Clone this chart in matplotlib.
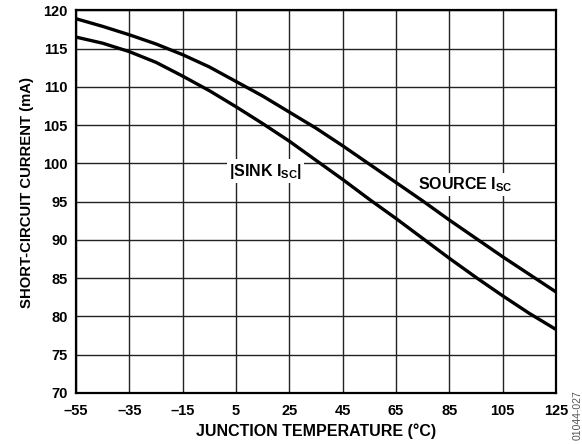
import matplotlib
matplotlib.use("Agg")
import matplotlib.pyplot as plt

temps = [-55, -45, -35, -25, -15, -5, 5, 15, 25, 35, 45, 55, 65, 75, 85, 95, 105, 115, 125]
source_isc = [118.9, 117.9, 116.8, 115.6, 114.2, 112.6, 110.7, 108.8, 106.7, 104.6,
              102.3, 99.9, 97.5, 95.1, 92.6, 90.2, 87.8, 85.5, 83.2]
sink_isc = [116.5, 115.7, 114.6, 113.2, 111.4, 109.5, 107.4, 105.2, 102.9, 100.4,
            97.9, 95.3, 92.8, 90.2, 87.6, 85.1, 82.7, 80.4, 78.3]
x_ticks = [-55, -35, -15, 5, 25, 45, 65, 85, 105, 125]
x_tick_labels = ["–55", "–35", "–15", "5", "25", "45", "65", "85", "105", "125"]
y_ticks = [70, 75, 80, 85, 90, 95, 100, 105, 110, 115, 120]

plt.rcParams['font.family'] = ['Liberation Sans', 'DejaVu Sans']
plt.rcParams['font.weight'] = 'bold'
plt.rcParams['mathtext.fontset'] = 'custom'
plt.rcParams['mathtext.rm'] = 'Liberation Sans:bold'
plt.rcParams['mathtext.bf'] = 'Liberation Sans:bold'
plt.rcParams['mathtext.it'] = 'Liberation Sans:bold'

fig = plt.figure(figsize=(5.82, 4.44), dpi=100)
ax = fig.add_axes([0.1306, 0.1149, 0.8247, 0.8619])

ax.plot(temps, source_isc, color='black', lw=2.4, solid_capstyle='butt',
        solid_joinstyle='round', zorder=3)
ax.plot(temps, sink_isc, color='black', lw=2.4, solid_capstyle='butt',
        solid_joinstyle='round', zorder=3)

ax.set_xlim(-55, 125)
ax.set_ylim(70, 120)
ax.set_xticks(x_ticks)
ax.set_xticklabels(x_tick_labels)
ax.set_yticks(y_ticks)
ax.grid(True, color='#222222', lw=1.0)
ax.set_axisbelow(True)
ax.tick_params(length=0, labelsize=10.5)
ax.tick_params(axis='y', pad=6)
ax.tick_params(axis='x', pad=8)
for lab in ax.get_xticklabels() + ax.get_yticklabels():
    lab.set_fontweight('bold')
for sp in ax.spines.values():
    sp.set_linewidth(1.6)

ax.set_xlabel("JUNCTION TEMPERATURE (°C)", fontsize=11.5, fontweight='bold', labelpad=4)
ax.set_ylabel("SHORT-CIRCUIT CURRENT (mA)", fontsize=10.7, fontweight='bold')
ax.yaxis.set_label_coords(-0.088, 0.525)

bbox = dict(facecolor='white', edgecolor='none', pad=1.5)
ax.text(16, 99.0, r"|SINK I$_{\mathrm{SC}}$|", fontsize=11.5, fontweight='bold',
        ha='center', va='center', bbox=bbox, zorder=2)
ax.text(91, 97.2, r"SOURCE I$_{\mathrm{SC}}$", fontsize=11.5, fontweight='bold',
        ha='center', va='center', bbox=bbox, zorder=2)

fig.text(578 / 582, 1 - 390 / 444, "01044-027", rotation=90, fontsize=7.5,
         fontweight='normal', color='#555555', ha='center', va='top')

fig.savefig("out.png", dpi=100)
